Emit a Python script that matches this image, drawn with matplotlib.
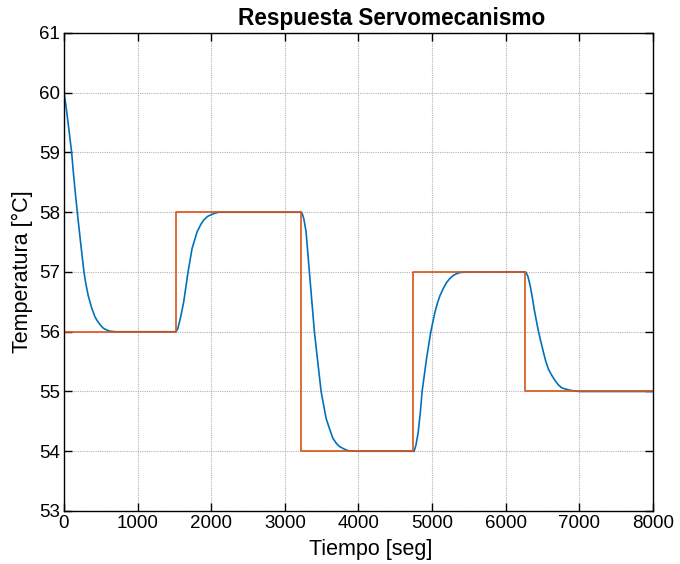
import matplotlib.pyplot as plt

plt.rcParams['font.family'] = ['Liberation Sans', 'DejaVu Sans']

# setpoint (referencia): step times [s] and levels [°C]
ref_t = [0, 1520, 3220, 4745, 6265, 8000]
ref_T = [56, 58, 54, 57, 55, 55]

# response
resp_t = [0, 25, 50, 75, 104, 125, 140, 160, 181, 200, 225, 250, 272, 290, 310, 330, 353, 375,
          400, 420, 444, 465, 490, 510, 534, 555, 580, 600, 625, 660, 700,
          1522, 1545, 1580, 1626, 1685, 1739, 1807, 1860, 1898, 1950, 2001, 2050, 2101, 2200,
          3225, 3240, 3255, 3265, 3288, 3333, 3401, 3492, 3560, 3600, 3651, 3700, 3741, 3800,
          3855, 3900, 3990,
          4755, 4780, 4810, 4840, 4864, 4923, 4982, 5037, 5070, 5105, 5150, 5194, 5240, 5285,
          5330, 5376, 5450,
          6270, 6300, 6332, 6360, 6386, 6415, 6445, 6480, 6513, 6545, 6581, 6620, 6671, 6715,
          6762, 6815, 6875, 6930, 7000, 8000]
resp_T = [60.0, 59.8, 59.55, 59.3, 59.0, 58.7, 58.5, 58.25, 58.0, 57.78, 57.5, 57.23, 57.0, 56.85, 56.72, 56.6, 56.5, 56.4,
          56.32, 56.25, 56.2, 56.16, 56.12, 56.09, 56.06, 56.045, 56.03, 56.02, 56.01, 56.005, 56.0,
          56.0, 56.05, 56.22, 56.5, 57.0, 57.39, 57.67, 57.8, 57.87, 57.93, 57.96, 57.985, 58.0, 58.0,
          58.0, 57.96, 57.9, 57.84, 57.67, 57.0, 56.0, 55.0, 54.55, 54.4, 54.22, 54.13, 54.08, 54.04,
          54.01, 54.005, 54.0,
          54.0, 54.1, 54.31, 54.65, 55.0, 55.54, 56.0, 56.32, 56.47, 56.6, 56.72, 56.82, 56.89, 56.94,
          56.97, 56.99, 57.0,
          57.0, 56.93, 56.77, 56.58, 56.38, 56.19, 56.0, 55.82, 55.65, 55.5, 55.37, 55.28, 55.18, 55.11,
          55.06, 55.04, 55.02, 55.01, 55.0, 55.0]

fig = plt.figure(figsize=(6.8, 5.64), dpi=100)
ax = fig.add_axes([0.0941, 0.094, 0.8662, 0.8475])

ax.plot(resp_t, resp_T, color='#0072BD', lw=1.2)
ax.step(ref_t, ref_T, where='post', color='#D95319', lw=1.2)

ax.set_xlim(0, 8000)
ax.set_ylim(53, 61)
ax.set_xticks(range(0, 8001, 1000))
ax.set_yticks(range(53, 62))

ax.grid(True, color='0.7', linestyle=(0, (1, 1)), lw=0.8)
ax.tick_params(direction='in', top=True, right=True, length=6, width=1, labelsize=13.5, pad=3)
for s in ax.spines.values():
    s.set_linewidth(1.0)

ax.set_title('Respuesta Servomecanismo', fontsize=16.3, fontweight='bold', pad=6, x=0.557)
ax.set_xlabel('Tiempo [seg]', fontsize=15.5, labelpad=5, x=0.52)
ax.set_ylabel('Temperatura [°C]', fontsize=15.5, labelpad=4)

fig.savefig('out.png', dpi=100)
